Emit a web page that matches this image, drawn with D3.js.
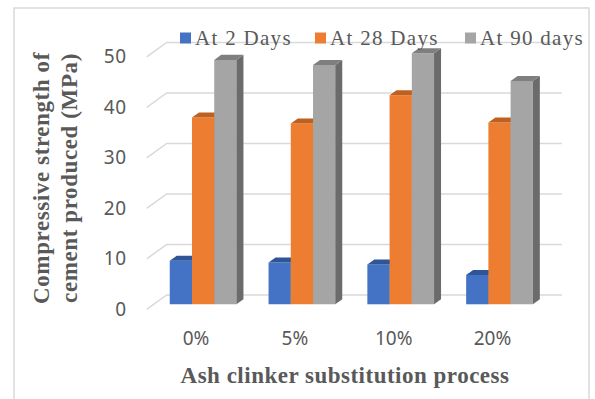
<!DOCTYPE html>
<html>
<head>
<meta charset="utf-8">
<script src="https://cdn.jsdelivr.net/npm/d3@7"></script>
<style>
  html, body { margin: 0; padding: 0; background: #ffffff; }
  svg { display: block; }
</style>
</head>
<body>
<svg id="chart" width="595" height="399"></svg>
<script>
// Compressive strength of cement by ash clinker substitution level
const categories = ["0%", "5%", "10%", "20%"];
const seriesNames = ["At 2 Days", "At 28 Days", "At 90 days"];
const day2 = [8.6, 8.3, 7.9, 5.8];
const day28 = [37.0, 35.8, 41.4, 36.0];
const day90 = [48.4, 47.4, 49.7, 44.2];
const yTicks = [0, 10, 20, 30, 40, 50];

const seriesValues = [day2, day28, day90];
const frontColors = ["#4472C4", "#ED7D31", "#A5A5A5"];
const topColors = ["#2F5597", "#C0601F", "#7F7F7F"];
const sideColors = ["#2B4C85", "#A9521A", "#6B6B6B"];

const svg = d3.select("#chart");

// Oblique 3D frame: front floor edge, depth vector going right and up
const floorFront = 309.3;
const depthX = 20, depthY = 14.3;
const barD0 = 0.35, barD1 = 0.70;

const x = d3.scaleBand().domain(categories).range([146.7, 541.9]);
const y = d3.scaleLinear().domain([0, 50]).range([0, 252.5]);

function P(xf, v, d) {
  return [xf + d * depthX, floorFront - d * depthY - y(v)];
}
const line = d3.line();

// Outer frame
svg.append("rect")
  .attr("x", 14).attr("y", 8).attr("width", 575).attr("height", 420)
  .attr("fill", "#ffffff").attr("stroke", "#D9D9D9").attr("stroke-width", 1.5);

// Gridlines on side wall and back wall
const x0 = x.range()[0], x1 = x.range()[1];
svg.append("g").selectAll("path").data(yTicks).join("path")
  .attr("d", t => line([P(x0, t, 0), P(x0, t, 1), P(x1, t, 1)]))
  .attr("fill", "none").attr("stroke", "#D9D9D9").attr("stroke-width", 1.5);

// Value axis labels
svg.append("g").selectAll("text").data(yTicks).join("text")
  .attr("x", 127).attr("y", t => P(x0, t, 0)[1])
  .attr("dy", "0.35em").attr("text-anchor", "end")
  .attr("font-family", "'Noto Sans', sans-serif").attr("font-size", 19)
  .attr("letter-spacing", 0.8)
  .attr("fill", "#595959").text(t => t);

// Category labels
svg.append("g").selectAll("text").data(categories).join("text")
  .attr("x", c => x(c) + x.bandwidth() / 2).attr("y", 345)
  .attr("text-anchor", "middle")
  .attr("font-family", "'Noto Sans', sans-serif").attr("font-size", 19)
  .attr("fill", "#595959").text(c => c);

// Bars
const bw = x.bandwidth() * 0.225;
const groupOffset = (x.bandwidth() - bw * seriesNames.length) / 2;
const bars = svg.append("g");
categories.forEach((c, ci) => {
  seriesNames.forEach((s, si) => {
    const v = seriesValues[si][ci];
    const xf = x(c) + groupOffset + si * bw;
    const g = bars.append("g");
    g.append("path")
      .attr("d", line([P(xf, 0, barD0), P(xf + bw, 0, barD0), P(xf + bw, v, barD0), P(xf, v, barD0)]) + "Z")
      .attr("fill", frontColors[si]);
    g.append("path")
      .attr("d", line([P(xf + bw, 0, barD0), P(xf + bw, 0, barD1), P(xf + bw, v, barD1), P(xf + bw, v, barD0)]) + "Z")
      .attr("fill", sideColors[si]);
    g.append("path")
      .attr("d", line([P(xf, v, barD0), P(xf + bw, v, barD0), P(xf + bw, v, barD1), P(xf, v, barD1)]) + "Z")
      .attr("fill", topColors[si]);
  });
});

// Legend
const legendX = [180, 315, 465];
const legend = svg.append("g");
seriesNames.forEach((s, i) => {
  legend.append("rect")
    .attr("x", legendX[i]).attr("y", 32.5).attr("width", 11).attr("height", 11)
    .attr("fill", frontColors[i]);
  legend.append("text")
    .attr("x", legendX[i] + 15).attr("y", 44.5)
    .attr("font-family", "'Liberation Serif', 'Times New Roman', serif")
    .attr("font-size", 21).attr("letter-spacing", 1.3)
    .attr("fill", "#595959").text(s);
});

// Axis titles
svg.append("text")
  .attr("x", 345).attr("y", 383).attr("text-anchor", "middle")
  .attr("font-family", "'Liberation Serif', 'Times New Roman', serif")
  .attr("font-size", 23).attr("font-weight", "bold").attr("letter-spacing", 0.5)
  .attr("fill", "#595959").text("Ash clinker substitution process");

const yTitle = svg.append("text")
  .attr("transform", "translate(0,178) rotate(-90)")
  .attr("text-anchor", "middle")
  .attr("font-family", "'Liberation Serif', 'Times New Roman', serif")
  .attr("font-size", 23).attr("font-weight", "bold").attr("letter-spacing", 0.6)
  .attr("fill", "#595959");
yTitle.append("tspan").attr("x", 0).attr("y", 49).text("Compressive strength of");
yTitle.append("tspan").attr("x", 0).attr("y", 77).text("cement produced (MPa)");
</script>
</body>
</html>
